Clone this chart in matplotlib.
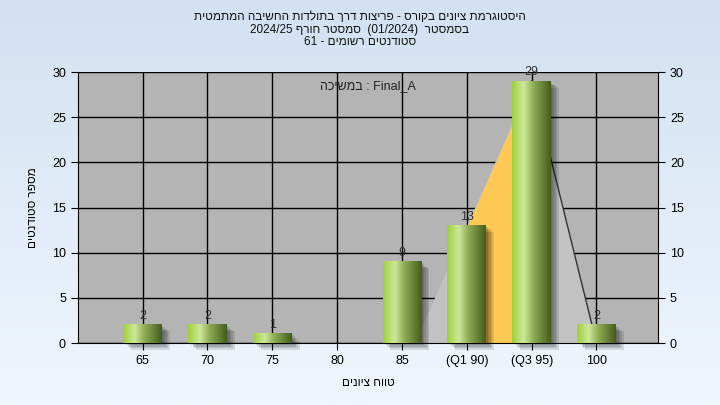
import re
import numpy as np
import matplotlib.pyplot as plt
from matplotlib.colors import LinearSegmentedColormap
from matplotlib.patches import Rectangle, Polygon

plt.rcParams['font.family'] = ['Liberation Sans', 'DejaVu Sans']

# Data
grades = [65, 70, 75, 80, 85, 90, 95, 100]
tick_labels = ['65', '70', '75', '80', '85', '(Q1 90)', '(Q3 95)', '100']
counts = [2, 2, 1, 0, 9, 13, 29, 2]
# distribution outline drawn behind the bars (grade, count)
curve_grades = [86, 95, 100]
curve_counts = [0, 29, 0]
q1_grade, q3_grade = 90, 95

title_lines = [
    'היסטוגרמת ציונים בקורס - פריצות דרך בתולדות החשיבה המתמטית',
    'בסמסטר  (01/2024)  סמסטר חורף 2024/25',
    'סטודנטים רשומים - 61',
]
note_text = 'Final_A : במשיכה'
x_label = 'טווח ציונים'
y_label = 'מספר סטודנטים'


def rtl(s):
    # crude visual ordering for Hebrew text (matplotlib draws left to right)
    s = s[::-1]
    s = re.sub(r'[A-Za-z0-9_/.]+', lambda m: m.group(0)[::-1], s)
    return s.translate(str.maketrans('()', ')('))


pos = np.arange(len(grades))


def grade_to_pos(g):
    return np.interp(g, grades, pos)


fig = plt.figure(figsize=(7.2, 4.05), dpi=100)

# background gradient
bg = fig.add_axes([0, 0, 1, 1], zorder=-10)
grad = np.linspace(0, 1, 256).reshape(-1, 1)
bg_cmap = LinearSegmentedColormap.from_list('bg', ['#D3E1F3', '#F0F6FD'])
bg.imshow(grad, aspect='auto', cmap=bg_cmap, extent=[0, 1, 0, 1])
bg.axis('off')

ax = fig.add_axes([0.108, 0.153, 0.806, 0.669])
ax.set_facecolor('#B4B4B4')

# distribution triangle + interquartile area
cx = grade_to_pos(curve_grades)
poly = Polygon(np.column_stack([cx, curve_counts]), closed=True,
               facecolor='#C2C2C2', edgecolor='none', zorder=2)
ax.add_patch(poly)
qx = np.linspace(grade_to_pos(q1_grade), grade_to_pos(q3_grade), 50)
qy = np.interp(qx, cx, curve_counts)
ax.fill_between(qx, 0, qy, color='#FFC955', lw=0, zorder=2.1)
ax.plot(cx[1:], curve_counts[1:], color='#333333', lw=1, zorder=2.2)

# bars with cylinder-like gradient and soft shadow
bar_cmap = LinearSegmentedColormap.from_list(
    'bar', [(0, '#9FD03A'), (0.3, '#CDE89A'), (0.55, '#90AC55'), (1, '#435E1B')])
gx = np.linspace(0, 1, 128).reshape(1, -1)
w = 0.6
for p, c in zip(pos, counts):
    if c == 0:
        continue
    for k in range(5):
        off = 0.02 + k * 0.025
        ax.add_patch(Rectangle((p - w / 2 + off, -off * 6), w, c,
                               facecolor='black', alpha=0.11, lw=0,
                               zorder=2.5, clip_on=False))
    ax.imshow(gx, extent=[p - w / 2, p + w / 2, 0, c], aspect='auto',
              cmap=bar_cmap, zorder=3)
    ax.text(p, c + 0.3, str(c), ha='center', va='bottom', fontsize=9,
            color='#333333', zorder=4)

ax.set_xlim(-1, 7.95)
ax.set_ylim(0, 30)
ax.set_xticks(pos)
ax.set_xticklabels(tick_labels, fontsize=9)
ax.set_yticks(range(0, 31, 5))
ax.tick_params(axis='y', labelsize=9, length=5, direction='out',
               right=True, labelright=True)
ax.tick_params(axis='x', length=5)
ax.grid(True, color='black', lw=1, zorder=1)
ax.set_axisbelow(True)
ax.spines['top'].set_visible(False)

ax.text(0.5, 0.95, rtl(note_text), transform=ax.transAxes, ha='center',
        va='center', fontsize=9, color='#222222', zorder=5)

ax.set_xlabel(rtl(x_label), fontsize=8.5, labelpad=7)
ax.set_ylabel(rtl(y_label), fontsize=8.5, labelpad=9)

for i, line in enumerate(title_lines):
    fig.text(0.5, 1 - (17 + 12.5 * i) / 405, rtl(line), ha='center',
             va='center', fontsize=8.5, color='#111111')

fig.savefig('out.png', dpi=100)
